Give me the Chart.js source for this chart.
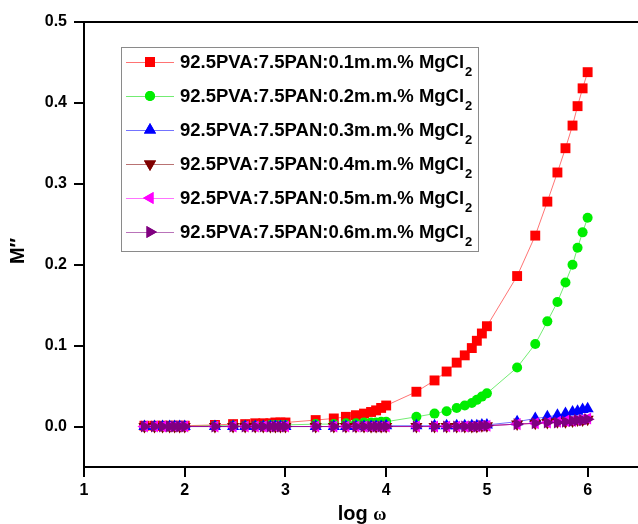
<!DOCTYPE html>
<html>
<head>
<meta charset="utf-8">
<script src="https://cdn.jsdelivr.net/npm/chart.js@4/dist/chart.umd.min.js"></script>
<style>
html,body{margin:0;padding:0;background:#fff;}
#wrap{width:638px;height:524px;}
</style>
</head>
<body>
<div id="wrap"><canvas id="c" width="638" height="524"></canvas></div>
<script>
const logW = [1.60,1.70,1.78,1.85,1.90,1.95,2.00,
  2.30,2.48,2.60,2.70,2.78,2.85,2.90,2.95,3.00,
  3.30,3.48,3.60,3.70,3.78,3.85,3.90,3.95,4.00,
  4.30,4.48,4.60,4.70,4.78,4.85,4.90,4.95,5.00,
  5.30,5.48,5.60,5.70,5.78,5.85,5.90,5.95,6.00];

const mgcl01 = [0.001,0.001,0.001,0.001,0.001,0.001,0.001,
  0.002,0.003,0.003,0.004,0.004,0.004,0.005,0.005,0.005,
  0.008,0.010,0.012,0.014,0.016,0.018,0.020,0.023,0.026,
  0.043,0.057,0.068,0.079,0.088,0.097,0.106,0.115,0.124,
  0.186,0.236,0.278,0.314,0.344,0.372,0.396,0.418,0.438];
const mgcl02 = [0.000,0.000,0.000,0.000,0.000,0.000,0.000,
  0.001,0.001,0.001,0.001,0.001,0.002,0.002,0.002,0.002,
  0.003,0.003,0.004,0.004,0.005,0.005,0.005,0.006,0.006,
  0.012,0.016,0.019,0.023,0.026,0.029,0.033,0.037,0.041,
  0.073,0.102,0.130,0.154,0.178,0.200,0.221,0.240,0.258];
const mgcl03 = [0.000,0.000,0.000,0.000,0.000,0.000,0.000,
  0.000,0.000,0.000,0.000,0.000,0.000,0.000,0.000,0.000,
  0.000,0.000,0.000,0.000,0.000,0.000,0.000,0.000,0.001,
  0.001,0.001,0.001,0.001,0.001,0.001,0.001,0.002,0.002,
  0.006,0.010,0.012,0.014,0.016,0.018,0.019,0.021,0.022];
const mgcl04 = [0.000,0.000,0.000,0.000,0.000,0.000,0.000,
  0.000,0.000,0.000,0.000,0.000,0.000,0.000,0.000,0.000,
  0.000,0.000,0.000,0.000,0.000,0.000,0.000,0.000,0.000,
  0.000,0.000,0.000,0.000,0.000,0.000,0.000,0.001,0.001,
  0.003,0.004,0.005,0.006,0.006,0.007,0.008,0.008,0.009];
const mgcl05 = [0.000,0.000,0.000,0.000,0.000,0.000,0.000,
  0.000,0.000,0.000,0.000,0.000,0.000,0.000,0.000,0.000,
  0.000,0.000,0.000,0.000,0.000,0.000,0.000,0.000,0.000,
  0.000,0.000,0.000,0.000,0.000,0.000,0.000,0.001,0.001,
  0.003,0.004,0.005,0.006,0.007,0.007,0.008,0.009,0.010];
const mgcl06 = [0.000,0.000,0.000,0.000,0.000,0.000,0.000,
  0.000,0.000,0.000,0.000,0.000,0.000,0.000,0.000,0.000,
  0.000,0.000,0.000,0.000,0.000,0.000,0.000,0.000,0.000,
  0.000,0.000,0.000,0.000,0.000,0.000,0.000,0.001,0.001,
  0.003,0.004,0.005,0.005,0.006,0.007,0.008,0.008,0.009];

const seriesLabels = ['92.5PVA:7.5PAN:0.1m.m.% MgCl','92.5PVA:7.5PAN:0.2m.m.% MgCl',
  '92.5PVA:7.5PAN:0.3m.m.% MgCl','92.5PVA:7.5PAN:0.4m.m.% MgCl',
  '92.5PVA:7.5PAN:0.5m.m.% MgCl','92.5PVA:7.5PAN:0.6m.m.% MgCl'];
const seriesSub = '2';
const xTicks = [1,2,3,4,5,6];
const yTicks = [0.0,0.1,0.2,0.3,0.4,0.5];
const xTitle = 'log ';
const xTitleGreek = 'ω';
const yTitle = 'M″';

const allSeries = [mgcl01,mgcl02,mgcl03,mgcl04,mgcl05,mgcl06];
const colors = ['#ff0000','#00ee00','#0000ff','#800000','#ff00ff','#800080'];
const lineColors = ['rgba(255,0,0,0.55)','rgba(0,220,0,0.55)','rgba(0,0,255,0.55)','rgba(128,0,0,0.55)','rgba(255,0,255,0.55)','rgba(128,0,128,0.55)'];
const styles = ['rect','circle','triangle','triangle','triangle','triangle'];
const rotations = [0,0,0,180,-90,90];
const radii = [7,5,7,7,7,7];

const datasets = allSeries.map((s,i)=>({
  label: seriesLabels[i] + seriesSub,
  data: s.map((v,j)=>({x:logW[j], y:v})),
  borderColor: lineColors[i],
  backgroundColor: colors[i],
  pointBackgroundColor: colors[i],
  pointBorderWidth: 0,
  pointStyle: styles[i],
  pointRotation: rotations[i],
  pointRadius: radii[i],
  borderWidth: 1,
  showLine: true,
  tension: 0,
  order: 5 - i
}));

const font = '"Liberation Sans", Arial, sans-serif';
const serif = '"Liberation Serif", "Times New Roman", serif';

const decor = {
  id: 'decor',
  afterDraw(chart){
    const ctx = chart.ctx;
    const ca = chart.chartArea;
    ctx.save();
    // top frame line
    ctx.strokeStyle = '#000';
    ctx.lineWidth = 2;
    ctx.beginPath();
    ctx.moveTo(ca.left-1, ca.top);
    ctx.lineTo(638, ca.top);
    ctx.stroke();
    // legend box
    const bx = 121.5, by = 47.5, bw = 357, bh = 204;
    ctx.fillStyle = '#fff';
    ctx.fillRect(bx, by, bw, bh);
    ctx.strokeStyle = '#8a8a8a';
    ctx.lineWidth = 1;
    ctx.strokeRect(bx, by, bw, bh);
    const rowY0 = 62, rowDy = 34;
    for (let i=0;i<6;i++){
      const y = rowY0 + i*rowDy;
      ctx.strokeStyle = lineColors[i];
      ctx.lineWidth = 1;
      ctx.beginPath();
      ctx.moveTo(126, y+0.5);
      ctx.lineTo(174, y+0.5);
      ctx.stroke();
      ctx.fillStyle = colors[i];
      Chart.helpers.drawPoint(ctx, {pointStyle: styles[i], rotation: rotations[i], radius: radii[i], borderWidth: 0}, 150, y);
      ctx.fill();
      ctx.fillStyle = '#000';
      ctx.font = 'bold 18.5px ' + font;
      ctx.textBaseline = 'middle';
      ctx.textAlign = 'left';
      ctx.fillText(seriesLabels[i], 180, y+1);
      const w = ctx.measureText(seriesLabels[i]).width;
      ctx.font = 'bold 13px ' + font;
      ctx.fillText(seriesSub, 180 + w + 1, y + 10);
    }
    // y title
    ctx.save();
    ctx.translate(18, 251);
    ctx.rotate(-Math.PI/2);
    ctx.font = 'bold 20px ' + font;
    ctx.fillStyle = '#000';
    ctx.textAlign = 'center';
    ctx.textBaseline = 'middle';
    ctx.fillText(yTitle, 0, 0);
    ctx.restore();
    // x title
    ctx.font = 'bold 20px ' + font;
    const w1 = ctx.measureText(xTitle).width;
    ctx.font = 'bold 18px ' + serif;
    const w2 = ctx.measureText(xTitleGreek).width;
    const sx = 362 - (w1+w2)/2;
    ctx.fillStyle = '#000';
    ctx.textAlign = 'left';
    ctx.textBaseline = 'alphabetic';
    ctx.font = 'bold 20px ' + font;
    ctx.fillText(xTitle, sx, 520);
    ctx.font = 'bold 18px ' + serif;
    ctx.fillText(xTitleGreek, sx + w1, 520);
    ctx.restore();
  }
};

new Chart(document.getElementById('c'), {
  type: 'scatter',
  data: { datasets },
  plugins: [decor],
  options: {
    responsive: false,
    animation: false,
    devicePixelRatio: 1,
    layout: { autoPadding: false, padding: { top: 22, right: -1, bottom: 0, left: 0 } },
    plugins: { legend: { display: false }, tooltip: { enabled: false } },
    scales: {
      x: {
        type: 'linear', min: 1, max: 6.5,
        afterBuildTicks: s => { s.ticks = xTicks.map(v=>({value:v})); },
        afterFit: s => { s.height = 57; },
        border: { color: '#000', width: 2 },
        grid: { drawOnChartArea: false, color: '#000', lineWidth: 2, tickLength: 10 },
        ticks: { color: '#000', font: { family: font, size: 16, weight: 'bold' }, padding: 4, maxRotation: 0, callback: v => String(v) }
      },
      y: {
        type: 'linear', min: -0.05, max: 0.5,
        afterBuildTicks: s => { s.ticks = yTicks.map(v=>({value:v})); },
        afterFit: s => { s.width = 84; },
        border: { color: '#000', width: 2 },
        grid: { drawOnChartArea: false, color: '#000', lineWidth: 2, tickLength: 10 },
        ticks: { color: '#000', font: { family: font, size: 16, weight: 'bold' }, padding: 7, callback: v => v.toFixed(1) }
      }
    }
  }
});
</script>
</body>
</html>
